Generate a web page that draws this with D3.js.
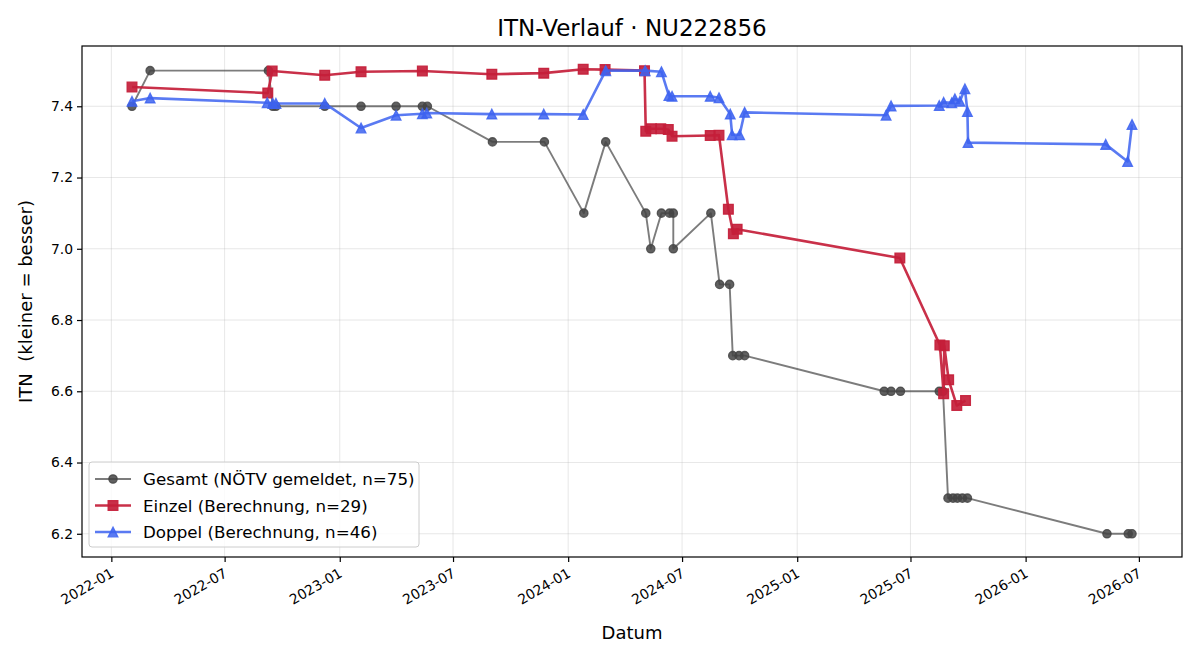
<!DOCTYPE html>
<html><head><meta charset="utf-8">
<script src="https://cdn.jsdelivr.net/npm/d3@7"></script>
<style>body{margin:0;background:#fff}svg{display:block;font-family:"DejaVu Sans",sans-serif}</style>
</head><body><svg id="c" width="1200" height="660"></svg>
<script>
const gesamtDates = ["2022-02-03","2022-03-04","2022-09-09","2022-09-16","2022-09-21","2022-12-08","2023-02-04","2023-04-01","2023-05-13","2023-05-21","2023-09-02","2023-11-24","2024-01-26","2024-03-01","2024-05-04","2024-05-12","2024-05-29","2024-06-11","2024-06-17","2024-06-17","2024-08-16","2024-08-30","2024-09-15","2024-09-20","2024-09-30","2024-10-09","2025-05-20","2025-05-31","2025-06-15","2025-08-16","2025-08-22","2025-08-30","2025-09-07","2025-09-14","2025-09-22","2025-09-30","2026-05-11","2026-06-14","2026-06-20"];
const gesamtValues = [7.4,7.5,7.5,7.4,7.4,7.4,7.4,7.4,7.4,7.4,7.3,7.3,7.1,7.3,7.1,7.0,7.1,7.1,7.1,7.0,7.1,6.9,6.9,6.7,6.7,6.7,6.6,6.6,6.6,6.6,6.6,6.3,6.3,6.3,6.3,6.3,6.2,6.2,6.2];
const einzelDates = ["2022-02-03","2022-09-08","2022-09-15","2022-12-08","2023-02-04","2023-05-13","2023-09-01","2023-11-23","2024-01-25","2024-02-29","2024-05-02","2024-05-04","2024-05-13","2024-05-28","2024-06-09","2024-06-15","2024-08-15","2024-08-29","2024-09-13","2024-09-21","2024-09-27","2025-06-14","2025-08-17","2025-08-23","2025-08-24","2025-08-31","2025-09-13","2025-09-27"];
const einzelValues = [7.454,7.437,7.499,7.487,7.497,7.499,7.49,7.493,7.504,7.503,7.5,7.33,7.337,7.337,7.335,7.316,7.318,7.319,7.111,7.042,7.055,6.974,6.73,6.593,6.728,6.632,6.56,6.574];
const doppelDates = ["2022-02-03","2022-03-04","2022-09-07","2022-09-16","2022-09-21","2022-12-08","2023-02-04","2023-04-01","2023-05-13","2023-05-20","2023-09-01","2023-11-23","2024-01-25","2024-03-01","2024-05-03","2024-05-29","2024-06-10","2024-06-15","2024-08-15","2024-08-29","2024-09-16","2024-09-19","2024-10-01","2024-10-09","2025-05-23","2025-05-31","2025-08-16","2025-08-23","2025-09-05","2025-09-10","2025-09-18","2025-09-26","2025-09-30","2025-10-01","2026-05-09","2026-06-13","2026-06-20"];
const doppelValues = [7.414,7.423,7.41,7.408,7.408,7.408,7.339,7.375,7.379,7.381,7.378,7.378,7.377,7.5,7.5,7.497,7.43,7.428,7.428,7.424,7.378,7.32,7.32,7.383,7.375,7.401,7.402,7.411,7.41,7.421,7.414,7.449,7.385,7.298,7.293,7.245,7.349];
const xTickLabels = ["2022-01","2022-07","2023-01","2023-07","2024-01","2024-07","2025-01","2025-07","2026-01","2026-07"];
const yTickValues = [6.2,6.4,6.6,6.8,7.0,7.2,7.4];
const legendLabels = ["Gesamt (NÖTV gemeldet, n=75)","Einzel (Berechnung, n=29)","Doppel (Berechnung, n=46)"];

const parse = d3.timeParse("%Y-%m-%d");
const parseM = d3.timeParse("%Y-%m");
const mk = (ds, vs) => ds.map((d, i) => ({x: parse(d), y: vs[i]}));
const series = [
  {data: mk(gesamtDates, gesamtValues), color: "#444444", op: 0.7, mop: 0.85, lw: 1.9, marker: "o", label: legendLabels[0]},
  {data: mk(einzelDates, einzelValues), color: "#c41e3a", op: 0.92, mop: 0.92, lw: 2.6, marker: "s", label: legendLabels[1]},
  {data: mk(doppelDates, doppelValues), color: "#3d63f0", op: 0.85, mop: 0.85, lw: 2.6, marker: "^", label: legendLabels[2]}
];

const L = 82, T = 46, R = 1182, B = 557;
const all = series.flatMap(s => s.data);
const [x0, x1] = d3.extent(all, d => +d.x);
const [y0, y1] = d3.extent(all, d => d.y);
const px = (x1 - x0) * 0.05, py = (y1 - y0) * 0.05;
const x = d3.scaleTime().domain([new Date(x0 - px), new Date(x1 + px)]).range([L, R]);
const y = d3.scaleLinear().domain([y0 - py, y1 + py]).range([B, T]);

const svg = d3.select("#c");
const xTicks = xTickLabels.map(parseM);

const g = svg.append("g");
g.selectAll(".gx").data(xTicks).join("line").attr("x1", d => x(d)).attr("x2", d => x(d)).attr("y1", T).attr("y2", B)
  .attr("stroke", "#b0b0b0").attr("stroke-opacity", 0.3).attr("stroke-width", 1);
g.selectAll(".gy").data(yTickValues).join("line").attr("y1", d => y(d)).attr("y2", d => y(d)).attr("x1", L).attr("x2", R)
  .attr("stroke", "#b0b0b0").attr("stroke-opacity", 0.3).attr("stroke-width", 1);

function markerPath(type, s) {
  const r = s / 2;
  if (type === "s") return `M${-r},${-r}H${r}V${r}H${-r}Z`;
  if (type === "^") return `M0,${-r}L${r},${r}L${-r},${r}Z`;
  return d3.symbol(d3.symbolCircle, Math.PI * r * r)();
}

svg.append("defs").append("clipPath").attr("id", "pc").append("rect")
  .attr("x", L).attr("y", T).attr("width", R - L).attr("height", B - T);
const plot = svg.append("g").attr("clip-path", "url(#pc)");
const line = d3.line().x(d => x(d.x)).y(d => y(d.y));
series.forEach(s => {
  plot.append("path").datum(s.data).attr("d", line).attr("fill", "none")
    .attr("stroke", s.color).attr("stroke-opacity", s.op).attr("stroke-width", s.lw).attr("stroke-linejoin", "round");
  const size = s.marker === "o" ? 8.3 : 9.7;
  plot.append("g").selectAll("path").data(s.data).join("path")
    .attr("transform", d => `translate(${x(d.x)},${y(d.y)})`)
    .attr("d", markerPath(s.marker, size))
    .attr("fill", s.color).attr("fill-opacity", s.mop)
    .attr("stroke", s.color).attr("stroke-opacity", s.mop).attr("stroke-width", 1.3);
});

svg.append("rect").attr("x", L).attr("y", T).attr("width", R - L).attr("height", B - T)
  .attr("fill", "none").attr("stroke", "#000").attr("stroke-width", 1.2);

const xa = svg.append("g").attr("transform", `translate(0,${B})`)
  .call(d3.axisBottom(x).tickValues(xTicks).tickFormat(d3.timeFormat("%Y-%m")).tickSizeOuter(0).tickSize(5).tickPadding(4));
xa.select(".domain").remove();
xa.selectAll("text").attr("font-size", 13.9).attr("font-family", "DejaVu Sans").attr("fill", "#000")
  .attr("text-anchor", "end").attr("dy", null).attr("y", 0)
  .attr("transform", "translate(3,19) rotate(-30)");
xa.selectAll("line").attr("stroke", "#000").attr("stroke-width", 1.2);

const ya = svg.append("g").attr("transform", `translate(${L},0)`)
  .call(d3.axisLeft(y).tickValues(yTickValues).tickFormat(d3.format(".1f")).tickSizeOuter(0).tickSize(5).tickPadding(4));
ya.select(".domain").remove();
ya.selectAll("text").attr("font-size", 13.9).attr("font-family", "DejaVu Sans").attr("fill", "#000");
ya.selectAll("line").attr("stroke", "#000").attr("stroke-width", 1.2);

svg.append("text").attr("x", (L + R) / 2).attr("y", 36).attr("text-anchor", "middle")
  .attr("font-size", 23).text("ITN-Verlauf · NU222856");
svg.append("text").attr("x", (L + R) / 2).attr("y", 639).attr("text-anchor", "middle")
  .attr("font-size", 18).text("Datum");
svg.append("text").attr("transform", `translate(32,${(T + B) / 2}) rotate(-90)`).attr("text-anchor", "middle")
  .attr("font-size", 18).attr("xml:space", "preserve").style("white-space", "pre").text("ITN  (kleiner = besser)");

const lg = svg.append("g");
lg.append("rect").attr("x", 89).attr("y", 462).attr("width", 330).attr("height", 85).attr("rx", 3)
  .attr("fill", "#fff").attr("fill-opacity", 0.8).attr("stroke", "#cccccc").attr("stroke-width", 1);
series.forEach((s, i) => {
  const yy = 479 + i * 26.5;
  lg.append("line").attr("x1", 95).attr("x2", 131).attr("y1", yy).attr("y2", yy)
    .attr("stroke", s.color).attr("stroke-opacity", s.op).attr("stroke-width", s.lw);
  const size = s.marker === "o" ? 8.3 : 9.7;
  lg.append("path").attr("transform", `translate(113,${yy})`).attr("d", markerPath(s.marker, size))
    .attr("fill", s.color).attr("fill-opacity", s.mop).attr("stroke", s.color).attr("stroke-opacity", s.mop).attr("stroke-width", 1.3);
  lg.append("text").attr("x", 143).attr("y", yy + 6).attr("font-size", 16.7).text(s.label);
});
</script></body></html>
